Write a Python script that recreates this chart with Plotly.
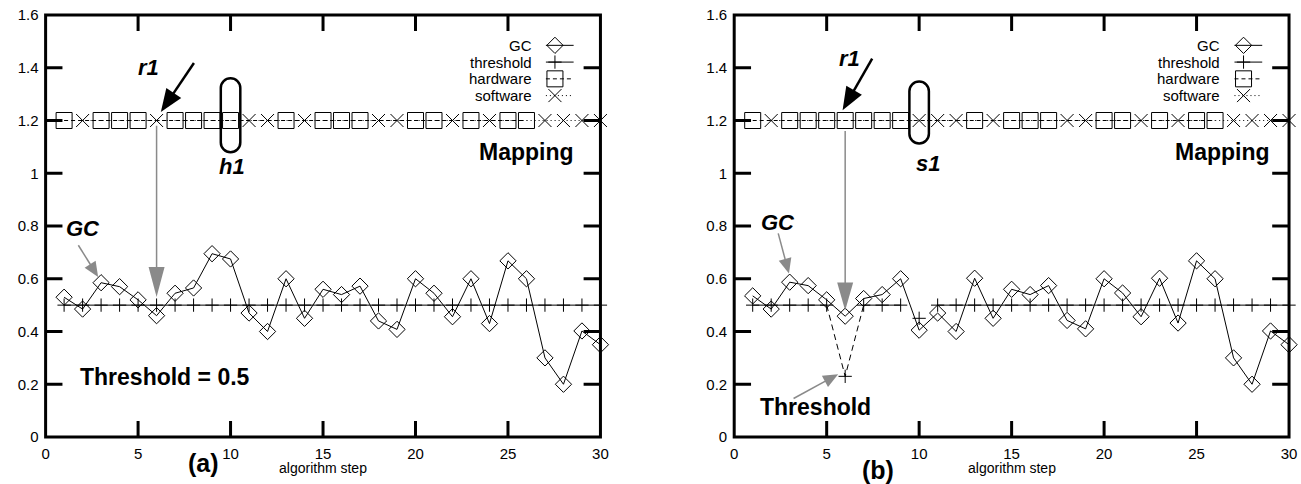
import math
import plotly.graph_objects as go

# ---------------- data ----------------
STEPS = list(range(1, 31))

GC_A = [0.53, 0.485, 0.585, 0.57, 0.52, 0.46, 0.545, 0.565, 0.695, 0.675,
        0.47, 0.40, 0.60, 0.45, 0.56, 0.54, 0.572, 0.44, 0.408, 0.60,
        0.545, 0.456, 0.60, 0.43, 0.668, 0.60, 0.30, 0.20, 0.402, 0.35]
GC_B = [0.535, 0.485, 0.587, 0.574, 0.52, 0.458, 0.525, 0.54, 0.60, 0.405,
        0.47, 0.40, 0.602, 0.45, 0.56, 0.54, 0.574, 0.442, 0.41, 0.60,
        0.546, 0.456, 0.602, 0.432, 0.668, 0.60, 0.30, 0.20, 0.402, 0.35]

THRESH_A = [0.5, 0.5, 0.5, 0.5, 0.5, 0.5, 0.5, 0.5, 0.5, 0.5,
            0.5, 0.5, 0.5, 0.5, 0.5, 0.5, 0.5, 0.5, 0.5, 0.5,
            0.5, 0.5, 0.5, 0.5, 0.5, 0.5, 0.5, 0.5, 0.5, 0.5]
THRESH_B = [0.5, 0.5, 0.5, 0.5, 0.5, 0.23, 0.5, 0.5, 0.5, 0.45,
            0.5, 0.5, 0.5, 0.5, 0.5, 0.5, 0.5, 0.5, 0.5, 0.5,
            0.5, 0.5, 0.5, 0.5, 0.5, 0.5, 0.5, 0.5, 0.5, 0.5]
THRESHOLD_BASE = 0.5

MAP_A = ["hw", "sw", "hw", "hw", "hw", "sw", "hw", "hw", "hw", "hw",
         "sw", "sw", "hw", "sw", "hw", "hw", "hw", "sw", "sw", "hw",
         "hw", "sw", "hw", "sw", "hw", "hw", "sw", "sw", "sw", "sw"]
MAP_B = ["hw", "sw", "hw", "hw", "hw", "hw", "hw", "hw", "hw", "sw",
         "sw", "sw", "hw", "sw", "hw", "hw", "hw", "sw", "sw", "hw",
         "hw", "sw", "hw", "sw", "hw", "hw", "sw", "sw", "sw", "sw"]
MAPPING_LEVEL = 1.2

X_TICKS = [0, 5, 10, 15, 20, 25, 30]
Y_TICKS = [0, 0.2, 0.4, 0.6, 0.8, 1.0, 1.2, 1.4, 1.6]
LEGEND_LABELS = ["GC", "threshold", "hardware", "software"]

# ---------------- layout constants ----------------
W, H = 1301, 484
M_T, M_B = 15, 47
PLOT_W, PLOT_H = 560, H - M_T - M_B
X_RANGE = [0, 30]
Y_RANGE = [0, 1.6]
PX_X = PLOT_W / (X_RANGE[1] - X_RANGE[0])
PX_Y = PLOT_H / (Y_RANGE[1] - Y_RANGE[0])
DOM_A = [42 / W, (42 + PLOT_W) / W]
DOM_B = [737 / W, (737 + PLOT_W) / W]

FONT = "Liberation Sans, Arial, Helvetica, sans-serif"
BLACK = "#000000"
GRAY = "#8a8a8a"
FRAME_W = 3
XTICK_LEN, YTICK_LEN = 16, 17

S_GC = dict(symbol="diamond-open", size=12.5, color=BLACK, line=dict(color=BLACK, width=1))
S_TH = dict(symbol="cross-thin", size=9.5, color=BLACK, line=dict(color=BLACK, width=1))
S_HW = dict(symbol="square-open", size=16, color=BLACK, line=dict(color=BLACK, width=1))
S_SW = dict(symbol="x-thin", size=13, color=BLACK, line=dict(color=BLACK, width=1))
L_GC = dict(color=BLACK, width=1)
L_TH = dict(color=BLACK, width=1)
L_HW = dict(color=BLACK, width=1, dash="4px,3px")
L_SW = dict(color=BLACK, width=1, dash="1px,3px")

fig = go.Figure()
shapes = []
annotations = []


def add(trace):
    trace.update(showlegend=False, cliponaxis=False, hoverinfo="skip")
    fig.add_trace(trace)


def mapping_traces(mapping, xa, ya):
    for kind, sty, lin in (("hw", S_HW, L_HW), ("sw", S_SW, L_SW)):
        xs = [s for s, m in zip(STEPS, mapping) if m == kind]
        add(go.Scatter(x=xs, y=[MAPPING_LEVEL] * len(xs), mode="lines+markers",
                       marker=sty, line=lin, xaxis=xa, yaxis=ya))


def frame(xa, ya, dom):
    """Thick box (paper coordinates, unclipped) with inward ticks on all four sides."""
    shapes.append(dict(type="rect", xref="paper", yref="paper", x0=dom[0], x1=dom[1],
                       y0=0, y1=1, line=dict(color=BLACK, width=FRAME_W), layer="above"))
    tl = XTICK_LEN / PLOT_H
    for xv in X_TICKS[1:-1]:
        for y0, y1 in ((0, tl), (1, 1 - tl)):
            shapes.append(dict(type="line", xref=xa, yref="paper", x0=xv, x1=xv,
                               y0=y0, y1=y1, line=dict(color=BLACK, width=3), layer="above"))
    tw = YTICK_LEN / W
    for yv in Y_TICKS[1:-1]:
        for x0, x1 in ((dom[0], dom[0] + tw), (dom[1], dom[1] - tw)):
            shapes.append(dict(type="line", xref="paper", yref=ya, x0=x0, x1=x1,
                               y0=yv, y1=yv, line=dict(color=BLACK, width=3), layer="above"))


def arrow(xr, yr, tail, tip, color, width, head_len, head_w):
    dx = (tip[0] - tail[0]) * PX_X
    dy = (tip[1] - tail[1]) * PX_Y
    ln = math.hypot(dx, dy)
    ux, uy = dx / ln, dy / ln
    sx = tip[0] - ux * head_len * 0.8 / PX_X
    sy = tip[1] - uy * head_len * 0.8 / PX_Y
    shapes.append(dict(type="line", xref=xr, yref=yr, x0=tail[0], y0=tail[1],
                       x1=sx, y1=sy, line=dict(color=color, width=width)))
    nx, ny = -uy, ux
    b1 = (-ux * head_len + nx * head_w / 2, -uy * head_len + ny * head_w / 2)
    b2 = (-ux * head_len - nx * head_w / 2, -uy * head_len - ny * head_w / 2)
    path = "M0,0 L%.2f,%.2f L%.2f,%.2f Z" % (b1[0], b1[1], b2[0], b2[1])
    shapes.append(dict(type="path", xref=xr, yref=yr, xsizemode="pixel", ysizemode="pixel",
                       xanchor=tip[0], yanchor=tip[1], path=path,
                       fillcolor=color, line=dict(width=0)))


def stadium(xr, yr, cx, cy, w, h):
    r = w / 2.0
    k = 0.5523 * r
    a = h / 2.0 - r
    p = ("M%.2f,%.2f L%.2f,%.2f " % (-r, -a, -r, a)
         + "C%.2f,%.2f %.2f,%.2f %.2f,%.2f " % (-r, a + k, -k, a + r, 0, a + r)
         + "C%.2f,%.2f %.2f,%.2f %.2f,%.2f " % (k, a + r, r, a + k, r, a)
         + "L%.2f,%.2f " % (r, -a)
         + "C%.2f,%.2f %.2f,%.2f %.2f,%.2f " % (r, -a - k, k, -a - r, 0, -a - r)
         + "C%.2f,%.2f %.2f,%.2f %.2f,%.2f Z" % (-k, -a - r, -r, -a - k, -r, -a))
    shapes.append(dict(type="path", xref=xr, yref=yr, xsizemode="pixel", ysizemode="pixel",
                       xanchor=cx, yanchor=cy, path=p, line=dict(color=BLACK, width=2.5)))


def text(xr, yr, x, y, t, size, bold=True, italic=False, xanchor="center"):
    annotations.append(dict(xref=xr, yref=yr, x=x, y=y, text=t, showarrow=False,
                            xanchor=xanchor, yanchor="middle",
                            font=dict(family=FONT, size=size, color=BLACK,
                                      weight="bold" if bold else "normal",
                                      style="italic" if italic else "normal")))


def legend(xa, ya):
    rows = [(S_GC, L_GC), (S_TH, L_TH), (S_HW, L_HW), (S_SW, L_SW)]
    y0, dy = 1.485, 0.0635
    for i, (lab, (sty, lin)) in enumerate(zip(LEGEND_LABELS, rows)):
        yy = y0 - i * dy
        add(go.Scatter(x=[27.05, 28.55], y=[yy, yy], mode="lines", line=lin, xaxis=xa, yaxis=ya))
        add(go.Scatter(x=[27.54], y=[yy], mode="markers", marker=sty, xaxis=xa, yaxis=ya))
        text(xa, ya, 26.4, yy, lab, 15, bold=False, xanchor="right")


# ---------------- panel (a) ----------------
add(go.Scatter(x=STEPS, y=THRESH_A, mode="lines+markers", marker=S_TH, line=L_TH,
               xaxis="x", yaxis="y"))
add(go.Scatter(x=STEPS, y=GC_A, mode="lines+markers", marker=S_GC, line=L_GC,
               xaxis="x", yaxis="y"))
mapping_traces(MAP_A, "x", "y")
legend("x", "y")

# ---------------- panel (b) ----------------
solid_y = [v if v == THRESHOLD_BASE else None for v in THRESH_B]
add(go.Scatter(x=STEPS, y=solid_y, mode="lines", line=L_TH, connectgaps=False,
               xaxis="x2", yaxis="y2"))
dip_idx = [i for i, v in enumerate(THRESH_B) if v < THRESHOLD_BASE - 0.1]
for i in dip_idx:
    seg = list(range(max(i - 1, 0), min(i + 2, len(STEPS))))
    add(go.Scatter(x=[STEPS[j] for j in seg], y=[THRESH_B[j] for j in seg], mode="lines",
                   line=dict(color=BLACK, width=1, dash="6px,4px"), xaxis="x2", yaxis="y2"))
add(go.Scatter(x=STEPS, y=THRESH_B, mode="markers", marker=S_TH, xaxis="x2", yaxis="y2"))
add(go.Scatter(x=STEPS, y=GC_B, mode="lines+markers", marker=S_GC, line=L_GC,
               xaxis="x2", yaxis="y2"))
mapping_traces(MAP_B, "x2", "y2")
legend("x2", "y2")

# ---------------- frames ----------------
frame("x", "y", DOM_A)
frame("x2", "y2", DOM_B)

# ---------------- annotations / arrows ----------------
text("x", "y", 5.55, 1.40, "r1", 22, italic=True)
text("x", "y", 10.1, 1.024, "h1", 22, italic=True)
text("x", "y", 28.7, 1.08, "Mapping", 23, xanchor="right")
text("x", "y", 2.04, 0.79, "GC", 22, italic=True)
text("x", "y", 6.46, 0.228, "Threshold = 0.5", 23)
arrow("x", "y", (8.02, 1.418), (6.23, 1.232), BLACK, 2.5, 23, 18)
arrow("x", "y", (6, 1.18), (6, 0.531), GRAY, 1.5, 30, 16)
arrow("x", "y", (1.77, 0.727), (2.84, 0.607), GRAY, 1.5, 15, 13)
stadium("x", "y", 10, 1.22, 19.5, 74)

text("x2", "y2", 6.23, 1.436, "r1", 22, italic=True)
text("x2", "y2", 10.49, 1.037, "s1", 22, italic=True)
text("x2", "y2", 29.1, 1.081, "Mapping", 23, xanchor="right")
text("x2", "y2", 2.36, 0.815, "GC", 22, italic=True)
text("x2", "y2", 4.37, 0.114, "Threshold", 23)
arrow("x2", "y2", (7.46, 1.435), (5.86, 1.239), BLACK, 2.5, 23, 18)
arrow("x2", "y2", (6, 1.16), (6, 0.48), GRAY, 1.5, 28, 16)
arrow("x2", "y2", (2.38, 0.772), (2.96, 0.62), GRAY, 1.5, 15, 13)
arrow("x2", "y2", (3.21, 0.146), (5.62, 0.238), GRAY, 1.5, 15, 13)
stadium("x2", "y2", 10, 1.23, 19.5, 62)

annotations.append(dict(xref="x domain", yref="paper", x=0.284, y=-0.0616, text="(a)",
                        showarrow=False, xanchor="center", yanchor="middle",
                        font=dict(family=FONT, size=25, color=BLACK, weight="bold")))
annotations.append(dict(xref="x2 domain", yref="paper", x=0.259, y=-0.078, text="(b)",
                        showarrow=False, xanchor="center", yanchor="middle",
                        font=dict(family=FONT, size=25, color=BLACK, weight="bold")))
for xr in ("x domain", "x2 domain"):
    annotations.append(dict(xref=xr, yref="paper", x=0.5, y=-0.073, text="algorithm step",
                            showarrow=False, xanchor="center", yanchor="middle",
                            font=dict(family=FONT, size=14, color=BLACK)))

axis_common = dict(showline=False, ticks="", showgrid=False, zeroline=False,
                   tickfont=dict(family=FONT, size=15, color=BLACK), ticklabelstandoff=6)

fig.update_layout(
    width=W, height=H,
    margin=dict(l=0, r=0, t=M_T, b=M_B),
    paper_bgcolor="white", plot_bgcolor="white",
    showlegend=False,
    xaxis=dict(domain=DOM_A, range=X_RANGE, tickvals=X_TICKS, anchor="y", **axis_common),
    yaxis=dict(domain=[0, 1], range=Y_RANGE, tickvals=Y_TICKS, anchor="x", **axis_common),
    xaxis2=dict(domain=DOM_B, range=X_RANGE, tickvals=X_TICKS, anchor="y2", **axis_common),
    yaxis2=dict(domain=[0, 1], range=Y_RANGE, tickvals=Y_TICKS, anchor="x2", **axis_common),
    shapes=shapes,
    annotations=annotations,
)

fig.write_html("out.html")
